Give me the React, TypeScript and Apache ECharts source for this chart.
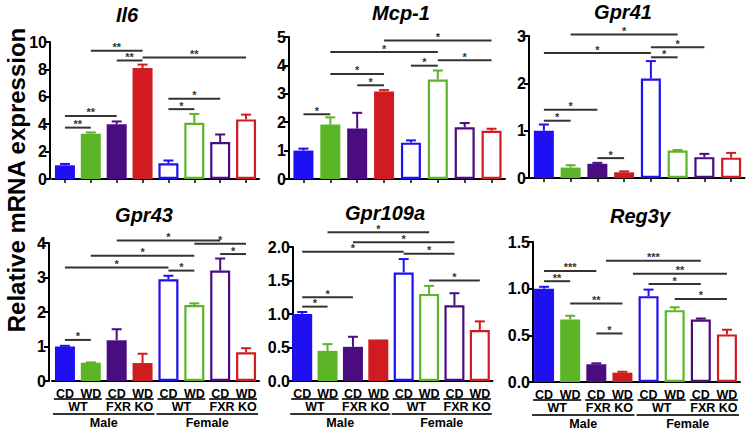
import React, { useEffect, useRef } from "react";
import * as echarts from "echarts";

const FONT = '"Liberation Sans", Arial, Helvetica, sans-serif';

// Categories
const groups = [
  "Male WT CD", "Male WT WD", "Male FXR KO CD", "Male FXR KO WD",
  "Female WT CD", "Female WT WD", "Female FXR KO CD", "Female FXR KO WD",
];
const dietLabels = ["CD", "WD", "CD", "WD", "CD", "WD", "CD", "WD"];
const genotypeLabels = ["WT", "FXR KO", "WT", "FXR KO"];
const sexLabels = ["Male", "Female"];
const barColors = ["#1f10f2", "#5bb526", "#4b0c80", "#d01b20", "#1f10f2", "#5bb526", "#4b0c80", "#d01b20"];
const yAxisTitle = "Relative mRNA expression";

// Il6
const il6Mean = [1.0, 3.3, 4.0, 8.1, 1.15, 4.1, 2.7, 4.35];
const il6Sem = [0.1, 0.1, 0.2, 0.25, 0.2, 0.65, 0.55, 0.35];
const il6Sig: [number, number, number, string][] = [
  [0, 1, 3.75, "**"], [0, 2, 4.6, "**"], [1, 3, 9.37, "**"], [2, 3, 8.65, "**"],
  [3, 7, 8.87, "**"], [4, 5, 5.1, "*"], [4, 6, 5.86, "*"],
];
// Mcp-1
const mcp1Mean = [1.0, 1.92, 1.78, 3.08, 1.28, 3.5, 1.82, 1.7];
const mcp1Sem = [0.07, 0.25, 0.55, 0.05, 0.08, 0.32, 0.15, 0.07];
const mcp1Sig: [number, number, number, string][] = [
  [0, 1, 2.28, "*"], [1, 3, 3.7, "*"], [2, 3, 3.3, "*"], [1, 5, 4.47, "*"],
  [3, 7, 4.88, "*"], [4, 5, 3.99, "*"], [5, 7, 4.18, "*"],
];
// Gpr41
const gpr41Mean = [1.0, 0.22, 0.3, 0.12, 2.1, 0.58, 0.44, 0.43];
const gpr41Sem = [0.13, 0.05, 0.02, 0.02, 0.37, 0.01, 0.07, 0.1];
const gpr41Sig: [number, number, number, string][] = [
  [0, 1, 1.21, "*"], [0, 2, 1.44, "*"], [2, 3, 0.42, "*"], [0, 4, 2.64, "*"],
  [1, 5, 3.03, "*"], [4, 5, 2.55, "*"], [4, 6, 2.76, "*"],
];
// Gpr43
const gpr43Mean = [1.0, 0.53, 1.18, 0.52, 2.95, 2.2, 3.2, 0.83];
const gpr43Sem = [0.02, 0.01, 0.32, 0.27, 0.1, 0.05, 0.35, 0.12];
const gpr43Sig: [number, number, number, string][] = [
  [0, 1, 1.19, "*"], [0, 4, 3.29, "*"], [1, 5, 3.63, "*"], [2, 6, 4.07, "*"],
  [4, 5, 3.2, "*"], [5, 7, 3.98, "*"], [6, 7, 3.68, "*"],
];
// Gpr109a
const gpr109aMean = [1.0, 0.45, 0.51, 0.62, 1.62, 1.3, 1.13, 0.76];
const gpr109aSem = [0.03, 0.1, 0.15, 0, 0.2, 0.12, 0.18, 0.13];
const gpr109aSig: [number, number, number, string][] = [
  [0, 1, 1.11, "*"], [0, 2, 1.25, "*"], [0, 4, 1.93, "*"], [1, 5, 2.22, "*"],
  [2, 6, 2.07, "*"], [4, 6, 1.9, "*"], [5, 7, 1.5, "*"],
];
// Reg3γ
const reg3gMean = [1.0, 0.67, 0.19, 0.1, 0.92, 0.77, 0.67, 0.51];
const reg3gSem = [0.02, 0.04, 0.01, 0.01, 0.07, 0.03, 0.01, 0.05];
const reg3gSig: [number, number, number, string][] = [
  [0, 1, 1.08, "**"], [0, 2, 1.19, "***"], [1, 3, 0.84, "**"], [2, 3, 0.52, "*"],
  [2.37, 6, 1.3, "***"], [3.4, 7, 1.16, "**"], [4, 6, 1.05, "*"], [5, 7, 0.89, "*"],
];

const panels = [
  { title: "Il6", mean: il6Mean, sem: il6Sem, sig: il6Sig, max: 10, interval: 2, dec: 0,
    grid: { left: 52, top: 42, width: 207, height: 137 }, off: 2, bottom: false, tx: 127, ty: 15 },
  { title: "Mcp-1", mean: mcp1Mean, sem: mcp1Sem, sig: mcp1Sig, max: 5, interval: 1, dec: 0,
    grid: { left: 290, top: 37, width: 215, height: 142 }, off: 1, bottom: false, tx: 401, ty: 13 },
  { title: "Gpr41", mean: gpr41Mean, sem: gpr41Sem, sig: gpr41Sig, max: 3, interval: 1, dec: 0,
    grid: { left: 530.5, top: 36, width: 214, height: 142 }, off: 1.5, bottom: false, tx: 623, ty: 12 },
  { title: "Gpr43", mean: gpr43Mean, sem: gpr43Sem, sig: gpr43Sig, max: 4, interval: 1, dec: 0,
    grid: { left: 52, top: 243, width: 207, height: 138 }, off: 3, bottom: true, tx: 144, ty: 215 },
  { title: "Gpr109a", mean: gpr109aMean, sem: gpr109aSem, sig: gpr109aSig, max: 2, interval: 0.5, dec: 1,
    grid: { left: 289.5, top: 247, width: 203, height: 134 }, off: -3.5, bottom: true, tx: 385, ty: 213 },
  { title: "Reg3γ", mean: reg3gMean, sem: reg3gSem, sig: reg3gSig, max: 1.5, interval: 0.5, dec: 1,
    grid: { left: 531, top: 242, width: 209, height: 140 }, off: -2, bottom: true, tx: 640, ty: 216 },
];

function txt(text: string, x: number, y: number, size: number, extra: any = {}) {
  return {
    type: "text",
    style: {
      text, x, y, fill: "#000",
      fontFamily: FONT, fontWeight: "bold", fontSize: size,
      align: "center", verticalAlign: "middle",
      textAlign: "center", textVerticalAlign: "middle",
      ...extra,
    },
  };
}

export default function App() {
  const ref = useRef<HTMLDivElement>(null);
  useEffect(() => {
    if (!ref.current) return;
    const chart = echarts.init(ref.current, undefined, { renderer: "svg" });
    const grid: any[] = [];
    const xAxis: any[] = [];
    const yAxis: any[] = [];
    const series: any[] = [];
    const graphic: any[] = [];

    panels.forEach((p, gi) => {
      grid.push({ ...p.grid, containLabel: false });
      xAxis.push({
        type: "category", gridIndex: gi, data: groups, boundaryGap: true,
        axisLine: { show: true, lineStyle: { color: "#000", width: 2 } },
        axisTick: { show: !p.bottom, alignWithLabel: true, length: 4, lineStyle: { color: "#000", width: 1.5 } },
        axisLabel: {
          show: p.bottom, interval: 0, margin: 6, color: "#000",
          fontFamily: FONT, fontWeight: "bold", fontSize: 12.5,
          formatter: (_v: string, i: number) => dietLabels[i],
        },
        splitLine: { show: false },
      });
      yAxis.push({
        type: "value", gridIndex: gi, min: 0, max: p.max, interval: p.interval, offset: p.off,
        axisLine: { show: true, lineStyle: { color: "#000", width: 2 } },
        axisTick: { show: true, length: 5, lineStyle: { color: "#000", width: 2 } },
        axisLabel: {
          color: "#000", fontFamily: FONT, fontWeight: "bold", fontSize: 16, margin: 3,
          formatter: (v: number) => v.toFixed(p.dec),
        },
        splitLine: { show: false },
      });
      series.push({
        type: "bar", xAxisIndex: gi, yAxisIndex: gi, barWidth: 20,
        data: p.mean.map((v, i) => ({
          value: v,
          itemStyle: i < 4
            ? { color: barColors[i] }
            : { color: "#fff", borderColor: barColors[i], borderWidth: 2.2 },
        })),
        z: 2,
      });
      series.push({
        type: "custom", xAxisIndex: gi, yAxisIndex: gi, clip: false, z: 3,
        data: p.mean.map((v, i) => [i, v, p.sem[i]]),
        encode: { x: 0, y: 1 },
        renderItem: (_params: any, api: any) => {
          const i = api.value(0), m = api.value(1), e = api.value(2);
          if (!e) return { type: "group", children: [] };
          const b = api.coord([i, m]);
          const t = api.coord([i, m + e]);
          const st = { stroke: barColors[i], lineWidth: 2 };
          return {
            type: "group",
            children: [
              { type: "line", shape: { x1: b[0], y1: b[1], x2: t[0], y2: t[1] }, style: st },
              { type: "line", shape: { x1: t[0] - 5, y1: t[1], x2: t[0] + 5, y2: t[1] }, style: st },
            ],
          };
        },
      });
      series.push({
        type: "custom", xAxisIndex: gi, yAxisIndex: gi, clip: false, z: 4,
        data: p.sig.map((s, k) => [Math.round(s[0]), s[2], k]),
        encode: { x: 0, y: 1 },
        renderItem: (_params: any, api: any) => {
          const k = api.value(2);
          const [a, b, v, lab] = p.sig[k];
          const px = (t: number) => {
            const f = Math.floor(t), c = Math.ceil(t);
            const p1 = api.coord([f, v]);
            if (f === c) return p1;
            const p2 = api.coord([c, v]);
            return [p1[0] + (p2[0] - p1[0]) * (t - f), p1[1]];
          };
          const A = px(a), B = px(b);
          return {
            type: "group",
            children: [
              { type: "line", shape: { x1: A[0], y1: A[1], x2: B[0], y2: B[1] }, style: { stroke: "#333", lineWidth: 2 } },
              txt(lab, (A[0] + B[0]) / 2, A[1] - 3.5, 11, { fill: "#333" }),
            ],
          };
        },
      });
      if (p.bottom) {
        series.push({
          type: "custom", xAxisIndex: gi, yAxisIndex: gi, clip: false, z: 4,
          data: [[0, 0]],
          encode: { x: 0, y: 1 },
          renderItem: (_params: any, api: any) => {
            const y0 = api.coord([0, 0])[1];
            const cx = (i: number) => api.coord([i, 0])[0];
            const children: any[] = [];
            genotypeLabels.forEach((g, k) => {
              const x1 = cx(2 * k) - 11, x2 = cx(2 * k + 1) + 11;
              children.push({ type: "line", shape: { x1, y1: y0 + 18, x2, y2: y0 + 18 }, style: { stroke: "#333", lineWidth: 2 } });
              children.push(txt(g, (cx(2 * k) + cx(2 * k + 1)) / 2, y0 + 26, 12.5));
            });
            sexLabels.forEach((s, k) => {
              const x1 = cx(4 * k) - 12, x2 = cx(4 * k + 3) + 12;
              children.push({ type: "line", shape: { x1, y1: y0 + 33, x2, y2: y0 + 33 }, style: { stroke: "#333", lineWidth: 2 } });
              children.push(txt(s, (cx(4 * k) + cx(4 * k + 3)) / 2, y0 + 42, 12.5));
            });
            return { type: "group", children };
          },
        });
      }
      graphic.push({
        type: "text", x: p.tx, y: p.ty,
        style: {
          text: p.title, fill: "#000", fontFamily: FONT, fontWeight: "bold", fontStyle: "italic", fontSize: 20,
          textAlign: "center", textVerticalAlign: "middle", align: "center", verticalAlign: "middle",
        },
      });
    });

    graphic.push({
      type: "text", x: 16, y: 180, rotation: Math.PI / 2,
      style: {
        text: yAxisTitle, fill: "#000", fontFamily: FONT, fontWeight: "bold", fontSize: 24,
        textAlign: "center", textVerticalAlign: "middle", align: "center", verticalAlign: "middle",
      },
    });

    chart.setOption({
      animation: false,
      backgroundColor: "#fff",
      grid, xAxis, yAxis, series, graphic,
    });
    return () => chart.dispose();
  }, []);
  return (
    <div
      ref={ref}
      style={{ position: "fixed", left: 0, top: 0, width: 747, height: 433 }}
    />
  );
}
